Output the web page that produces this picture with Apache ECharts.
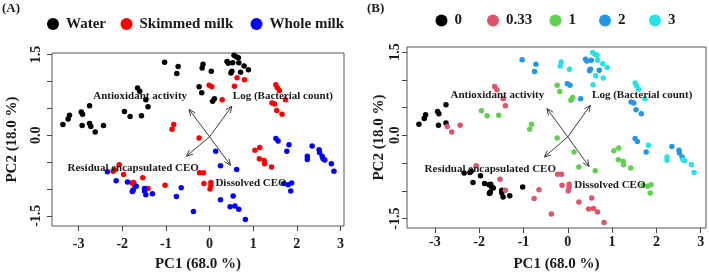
<!DOCTYPE html>
<html>
<head>
<meta charset="utf-8">
<script src="https://cdn.jsdelivr.net/npm/echarts@6/dist/echarts.min.js"></script>
<style>
  html, body { margin: 0; padding: 0; background: #fff; }
  #chart { width: 709px; height: 277px; }
</style>
</head>
<body>
<div id="chart"></div>
<script>
// scores, one set of arrays per medium
// time index: 0 -> "0", 1 -> "0.33", 2 -> "1", 3 -> "2", 4 -> "3"
const mediumLabels = ['Water', 'Skimmed milk', 'Whole milk'];
const timeLabels = ['0', '0.33', '1', '2', '3'];

const pc1Water = [-1.03, -0.72, -0.75, -0.24, -1.65, -1.60, -1.46, -1.41, -2.75, -2.94,
  -2.91, -1.95, -1.82, -1.56, -3.21, -3.24, -3.36, -2.92, -2.75, -2.72,
  -2.43, -2.62, -0.15, -0.17, 0.04, 0.56, 0.61, 0.66, 0.40, 0.43,
  0.53, 0.67, 0.79, 0.89, 0.51, 0.49, 0.71, -0.18, 0.11, 0.07];
const pc2Water = [1.36, 1.28, 1.15, 0.90, 0.88, 0.82, 0.66, 0.53, 0.55, 0.43,
  0.39, 0.44, 0.35, 0.36, 0.37, 0.30, 0.20, 0.18, 0.22, 0.16,
  0.18, 0.06, 1.32, 1.25, 1.19, 1.49, 1.46, 1.44, 1.37, 1.34,
  1.35, 1.35, 1.29, 1.22, 1.19, 1.16, 1.17, 0.79, 0.68, 0.63];
const timeWater = [3, 3, 3, 2, 1, 1, 1, 1, 0, 0,
  0, 2, 2, 2, 0, 0, 0, 0, 0, 1,
  1, 1, 4, 4, 4, 4, 4, 4, 3, 3,
  3, 4, 4, 4, 3, 3, 3, 2, 2, 2];

const pc1Skimmed = [0.63, 0.80, -0.01, 0.05, 0.57, 0.29, 1.52, 1.55, 1.60, 1.74,
  1.43, 1.49, 1.54, 1.66, -0.82, -0.86, -0.24, 1.04, 1.15, 1.14,
  1.25, 1.26, 1.42, -0.23, -0.14, -0.13, 0.03, 0.03, 0.01, -2.07,
  -2.18, -2.21, -1.97, -1.78, -1.74, -1.72, -1.76, -1.53, -1.41, -1.02];
const pc2Skimmed = [1.07, 1.03, 0.93, 0.90, 0.91, 0.66, 0.94, 0.89, 0.83, 0.66,
  0.60, 0.58, 0.46, 0.39, 0.20, 0.11, -0.05, -0.28, -0.23, -0.44,
  -0.47, -0.53, -0.59, -0.70, -0.70, -0.90, -0.88, -0.94, -1.00, -0.55,
  -0.65, -0.67, -0.73, -0.89, -0.88, -0.93, -1.04, -0.79, -0.99, -0.93];
const timeSkimmed = [4, 4, 3, 3, 4, 3, 4, 4, 4, 4,
  3, 3, 3, 3, 2, 2, 2, 2, 2, 2,
  2, 2, 2, 1, 1, 1, 1, 1, 1, 1,
  0, 0, 0, 0, 0, 0, 0, 1, 1, 0];

const pc1Whole = [1.52, 1.57, 1.82, 1.77, 2.35, 2.51, 2.52, 2.24, 2.24, 2.58,
  2.60, 2.64, 2.79, 2.85, 0.14, 0.25, 0.62, 1.70, 1.80, 1.88,
  1.86, 0.25, 0.54, 0.47, 0.58, 0.67, 0.82, -0.37, -0.76, -0.65,
  -2.34, -2.14, -1.88, -1.68, -1.75, -1.77, -1.49, -1.49, -1.46, -1.31];
const pc2Whole = [-0.06, -0.11, -0.18, -0.30, -0.20, -0.27, -0.32, -0.39, -0.45, -0.39,
  -0.44, -0.46, -0.53, -0.67, -0.30, -0.57, -0.64, -0.90, -0.92, -0.89,
  -1.04, -1.20, -1.13, -1.33, -1.32, -1.38, -1.57, -1.42, -1.14, -0.98,
  -0.68, -0.85, -0.87, -0.95, -1.02, -1.05, -0.99, -1.04, -1.11, -1.09];
const timeWhole = [3, 3, 4, 3, 3, 3, 3, 4, 4, 3,
  4, 4, 4, 4, 2, 2, 2, 2, 2, 2,
  2, 1, 1, 1, 1, 1, 1, 1, 1, 1,
  0, 0, 0, 0, 0, 0, 0, 0, 0, 0];

// loading arrows
const loadNames = ['Antioxidant activity', 'Log (Bacterial count)', 'Residual encapsulated CEO', 'Dissolved CEO'];
const loadPC1 = [-0.47, 0.51, -0.53, 0.48];
const loadPC2 = [0.48, 0.54, -0.39, -0.56];

const xTicks = [-3, -2, -1, 0, 1, 2, 3];
const yTicks = [-1.5, -1, -0.5, 0, 0.5, 1, 1.5];
const yTickLabels = [-1.5, 0, 1.5];

const mediumColors = ['#000000', '#ff0000', '#0000ff'];
const timeColors = ['#000000', '#DF536B', '#61D04F', '#2297E6', '#28E2E5'];

const pc1 = [pc1Water, pc1Skimmed, pc1Whole];
const pc2 = [pc2Water, pc2Skimmed, pc2Whole];
const times = [timeWater, timeSkimmed, timeWhole];

const FONT = '"Liberation Serif", "Times New Roman", serif';
const INK = '#1a1a1a';

let myChart = echarts.init(document.getElementById('chart'));

// arrow origin and where each label sits (in PC units)
const arrowOrigin = [0, -0.03];
const tagAnchors = [[-1.59, 0.725], [1.68, 0.725], [-1.75, -0.61], [0.95, -0.89]];

function renderLoading(params, api) {
  const o = api.coord([api.value(0), api.value(1)]);
  const t = api.coord([api.value(2), api.value(3)]);
  const p = api.coord([api.value(4), api.value(5)]);
  const ang = Math.atan2(t[1] - o[1], t[0] - o[0]);
  const h = 7, w = 0.42;
  return {
    type: 'group',
    children: [
      { type: 'line', shape: { x1: o[0], y1: o[1], x2: t[0], y2: t[1] },
        style: { stroke: '#3c3c3c', lineWidth: 1 } },
      { type: 'polyline',
        shape: { points: [
          [t[0] - h * Math.cos(ang - w), t[1] - h * Math.sin(ang - w)],
          [t[0], t[1]],
          [t[0] - h * Math.cos(ang + w), t[1] - h * Math.sin(ang + w)]
        ] },
        style: { stroke: '#3c3c3c', fill: null, lineWidth: 1 } },
      { type: 'text', x: p[0], y: p[1],
        style: { text: loadNames[params.dataIndex], font: 'bold 11px ' + FONT,
          fill: INK, align: 'center', verticalAlign: 'middle' } }
    ]
  };
}

function loadingData() {
  return loadNames.map((n, i) => [arrowOrigin[0], arrowOrigin[1], loadPC1[i], loadPC2[i], tagAnchors[i][0], tagAnchors[i][1]]);
}

function xAxisFor(idx, min, max, labelMargin, nameGap) {
  return {
    gridIndex: idx, type: 'value', min: min, max: max,
    axisLine: { show: false, onZero: false }, splitLine: { show: false },
    axisTick: { show: true, customValues: xTicks, length: 5, lineStyle: { color: '#444' } },
    axisLabel: { customValues: xTicks, margin: labelMargin, fontFamily: FONT, fontWeight: 'bold',
      fontSize: 14, color: INK, formatter: v => String(v) },
    name: 'PC1 (68.0 %)', nameLocation: 'middle', nameGap: nameGap,
    nameTextStyle: { fontFamily: FONT, fontWeight: 'bold', fontSize: 15, color: INK }
  };
}

function yAxisFor(idx, min, max, labelMargin, nameGap) {
  return {
    gridIndex: idx, type: 'value', min: min, max: max,
    axisLine: { show: false, onZero: false }, splitLine: { show: false },
    axisTick: { show: true, customValues: yTicks, length: 5, lineStyle: { color: '#444' } },
    axisLabel: { customValues: yTickLabels, rotate: 90, margin: labelMargin, fontFamily: FONT,
      fontWeight: 'bold', fontSize: 14, color: INK, formatter: v => v.toFixed(1) },
    name: 'PC2 (18.0 %)', nameLocation: 'middle', nameGap: nameGap,
    nameTextStyle: { fontFamily: FONT, fontWeight: 'bold', fontSize: 15, color: INK }
  };
}

const series = [];
// panel A: colour by medium
mediumLabels.forEach((name, m) => {
  series.push({
    name: name, type: 'scatter', xAxisIndex: 0, yAxisIndex: 0,
    symbolSize: 5.5, itemStyle: { color: mediumColors[m], opacity: 1 },
    data: pc1[m].map((x, i) => [x, pc2[m][i]])
  });
});
// panel B: colour by time
timeLabels.forEach((name, t) => {
  const pts = [];
  for (let m = 0; m < 3; m++) {
    pc1[m].forEach((x, i) => { if (times[m][i] === t) pts.push([x, pc2[m][i]]); });
  }
  series.push({
    name: name, type: 'scatter', xAxisIndex: 1, yAxisIndex: 1,
    symbolSize: 5.5, itemStyle: { color: timeColors[t], opacity: 1 },
    data: pts
  });
});
[0, 1].forEach(g => {
  series.push({
    type: 'custom', xAxisIndex: g, yAxisIndex: g, z: 5, silent: true,
    renderItem: renderLoading, data: loadingData()
  });
});

function legendItem(name, left, top) {
  return {
    data: [name], left: left, top: top, icon: 'circle', itemWidth: 12, itemHeight: 12,
    padding: 0, selectedMode: false,
    textStyle: { fontFamily: FONT, fontWeight: 'bold', fontSize: 15, color: INK, padding: [0, 0, 0, 2] }
  };
}

const legendsA = [47, 120.5, 250.5].map((l, i) => legendItem(mediumLabels[i], l, 16.5));
const legendsB = [435.5, 487, 549.5, 599, 649].map((l, i) => legendItem(timeLabels[i], l, 13));

myChart.setOption({
  animation: false,
  backgroundColor: '#fff',
  title: [
    { text: '(A)', left: 2, top: 2, padding: 0,
      textStyle: { fontFamily: FONT, fontWeight: 'bold', fontSize: 13, color: INK } },
    { text: '(B)', left: 367, top: 2, padding: 0,
      textStyle: { fontFamily: FONT, fontWeight: 'bold', fontSize: 13, color: INK } }
  ],
  legend: legendsA.concat(legendsB),
  grid: [
    { left: 52, top: 53, width: 292, height: 175, show: true, borderColor: '#555', borderWidth: 1 },
    { left: 407, top: 47, width: 299, height: 183, show: true, borderColor: '#555', borderWidth: 1 }
  ],
  xAxis: [
    xAxisFor(0, -3.61, 3.08, 11, 31),
    xAxisFor(1, -3.63, 3.12, 7, 29)
  ],
  yAxis: [
    yAxisFor(0, -1.69, 1.53, 9, 32),
    yAxisFor(1, -1.67, 1.59, 5, 19)
  ],
  series: series
});
</script>
</body>
</html>
